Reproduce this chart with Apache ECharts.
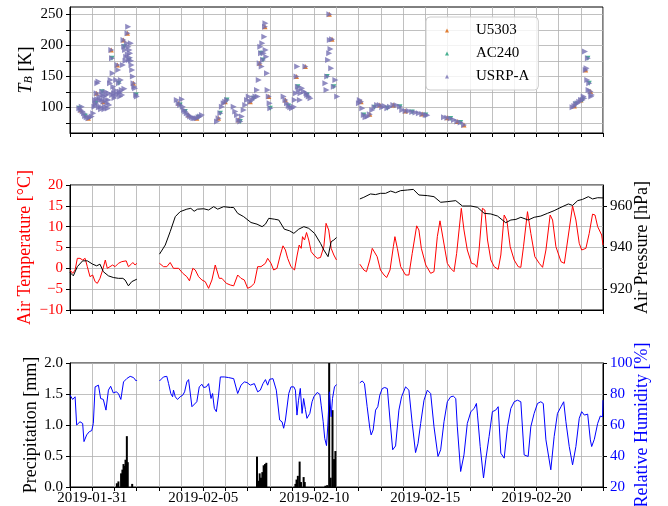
<!DOCTYPE html>
<html>
<head>
<meta charset="utf-8">
<script src="https://cdn.jsdelivr.net/npm/echarts@6/dist/echarts.min.js"></script>
<style>
  html, body { margin: 0; padding: 0; background: #fff; }
  #chart { width: 668px; height: 506px; }
</style>
</head>
<body>
<div id="chart"></div>
<script>
// x values are days since 2019-01-30 00:00
const dayTicks = [1, 6, 11, 16, 21];
const dayLabels = ['2019-01-31', '2019-02-05', '2019-02-10', '2019-02-15', '2019-02-20'];
const tbTicks = [75, 100, 125, 150, 175, 200, 225, 250];
const tbLabels = [100, 150, 200, 250];
const pressureTicks = [920, 940, 960];

const tbUSRP = [
  [0.42, 98.4], [0.48, 95.7], [0.53, 101], [0.57, 93], [0.63, 90.3], [0.68, 86], [0.75, 83.9], [0.83, 82.3],
  [0.9, 83.9], [0.98, 85], [1.05, 90.3], [1.1, 101], [1.13, 111.8], [1.15, 104], [1.17, 106.5], [1.2, 122.6],
  [1.22, 113], [1.23, 138.7], [1.28, 141.4], [1.3, 100], [1.32, 117.2], [1.35, 111.8], [1.38, 101], [1.4, 97],
  [1.43, 111.8], [1.45, 125], [1.47, 119.9], [1.5, 109.1], [1.53, 117.2], [1.55, 97], [1.58, 101], [1.6, 125],
  [1.62, 111.8], [1.65, 119.9], [1.68, 106.5], [1.7, 98], [1.73, 111.8], [1.74, 122.6], [1.77, 103.8],
  [1.8, 138.7], [1.83, 144.1], [1.86, 192.5], [1.89, 179], [1.9, 120], [1.92, 154.8], [1.95, 133.3],
  [1.98, 122.6], [2.0, 115], [2.03, 128], [2.05, 118], [2.08, 144.1], [2.11, 122.6], [2.14, 168.3],
  [2.17, 160.2], [2.2, 138.7], [2.23, 122.6], [2.25, 125], [2.26, 117.2], [2.29, 144.1], [2.33, 128],
  [2.35, 120], [2.38, 168.3], [2.41, 208.6], [2.44, 197.8], [2.45, 130], [2.48, 192.5], [2.5, 175],
  [2.53, 181.7], [2.56, 203.2], [2.59, 219.4], [2.6, 185], [2.62, 230.1], [2.63, 197.8], [2.65, 176.3],
  [2.68, 192.5], [2.7, 180], [2.71, 187.1], [2.74, 203.2], [2.75, 175], [2.77, 168.3], [2.8, 160.2],
  [2.83, 149.5], [2.86, 138.7], [2.89, 133.3], [2.93, 130.6], [2.98, 119.9], [3.01, 117.2],
  [4.81, 111.8], [4.89, 106.5], [4.96, 103.8], [5.04, 112.9], [5.08, 101], [5.14, 95.7], [5.19, 93],
  [5.26, 90.3], [5.34, 87.6], [5.41, 85], [5.49, 83.9], [5.56, 82.3], [5.64, 82.3], [5.71, 82.3],
  [5.79, 83.9], [5.86, 85], [5.94, 87.6],
  [6.62, 76.9], [6.69, 82.3], [6.77, 90.3], [6.84, 101], [6.92, 106.5], [6.99, 109.1], [7.07, 111.8],
  [7.37, 101], [7.44, 93], [7.52, 87.6], [7.59, 79.6], [7.67, 76.9], [7.74, 85], [7.82, 95.7], [7.89, 103.8],
  [7.97, 111.8], [8.05, 117.2], [8.12, 109.1], [8.2, 111.8], [8.27, 114.5], [8.35, 117.2], [8.42, 128],
  [8.45, 117.2], [8.5, 144.1], [8.54, 171], [8.57, 197.8], [8.6, 187.1], [8.63, 165.6], [8.66, 203.2],
  [8.69, 176.3], [8.72, 187.1], [8.75, 214], [8.78, 230.1], [8.8, 235.5], [8.81, 192.5], [8.84, 181.7],
  [8.87, 154.8], [8.9, 128], [8.95, 117.2], [8.99, 106.5], [9.02, 98.4],
  [9.62, 117.2], [9.7, 111.8], [9.77, 106.5], [9.85, 102.2], [9.92, 100], [10.0, 98.4], [10.08, 101],
  [10.12, 111.8], [10.17, 122.6], [10.2, 149.5], [10.23, 165.6], [10.26, 133.3], [10.3, 128], [10.35, 111.8],
  [10.38, 122.6], [10.45, 130.6], [10.53, 125.3], [10.6, 165.6], [10.65, 122.6], [10.68, 119.9],
  [10.75, 117.2], [10.83, 114.5],
  [11.5, 138.7], [11.55, 128], [11.58, 149.5], [11.62, 176.3], [11.67, 187.1], [11.68, 250], [11.7, 208.6],
  [11.73, 194], [11.76, 162.9], [11.8, 209.7], [11.88, 133.3], [11.95, 144.1], [12.03, 117.2],
  [13.01, 106.5], [13.05, 111.8], [13.11, 109.1], [13.16, 98.4], [13.23, 87.6], [13.31, 83.9], [13.41, 85],
  [13.5, 88.7], [13.61, 95.7], [13.71, 100], [13.83, 103.8], [13.95, 103.8], [14.06, 100], [14.17, 102.2],
  [14.29, 98.4], [14.41, 101], [14.56, 103.8], [14.71, 103.2], [14.86, 101], [14.96, 95.7], [15.11, 94.1],
  [15.26, 94.1], [15.41, 92.5], [15.56, 91.4], [15.71, 90.3], [15.86, 89.2], [16.02, 87.6], [16.09, 87.1],
  [16.84, 83.9], [16.99, 83.3], [17.14, 81.7], [17.29, 79.6], [17.44, 76.9], [17.59, 75.3], [17.74, 71.5],
  [22.63, 100], [22.71, 102.2], [22.78, 105.4], [22.86, 106.5], [22.93, 109.1], [23.01, 111.8],
  [23.08, 111.8], [23.13, 117.2], [23.16, 114.5], [23.19, 189.8], [23.22, 160.2], [23.26, 162.9],
  [23.29, 144.1], [23.32, 179], [23.35, 128], [23.38, 138.7], [23.44, 125.3], [23.47, 117.2], [23.5, 119.9]
];

// the other two receivers lie almost exactly under USRP-A
const tbU5303 = [
  [0.48, 95.7], [0.83, 82.3], [1.2, 122.6], [1.5, 109.1], [1.86, 192.5], [2.14, 168.3], [2.41, 208.6],
  [2.59, 219.4], [2.86, 138.7], [4.89, 106.5], [5.34, 87.6], [5.71, 82.3], [6.69, 82.3], [6.99, 109.1],
  [7.59, 79.6], [8.12, 109.1], [8.54, 171], [8.78, 230.1], [8.95, 117.2], [9.7, 111.8], [10.2, 149.5],
  [10.6, 165.6], [11.68, 250], [11.8, 209.7], [13.11, 109.1], [13.5, 88.7], [13.95, 103.8], [14.56, 103.8],
  [15.11, 94.1], [15.86, 89.2], [16.99, 83.3], [17.44, 76.9], [17.74, 71.5], [22.71, 102.2], [23.01, 111.8],
  [23.22, 160.2], [23.44, 125.3]
];

const tbAC240 = [
  [0.42, 98.4], [0.68, 86], [1.17, 106.5], [1.45, 125], [1.89, 179], [2.2, 138.7], [2.44, 197.8],
  [2.65, 176.3], [2.98, 119.9], [4.96, 103.8], [5.19, 93], [5.79, 83.9], [6.77, 90.3], [7.07, 111.8],
  [7.67, 76.9], [8.27, 114.5], [8.6, 187.1], [8.69, 176.3], [9.02, 98.4], [9.85, 102.2], [10.26, 133.3],
  [10.68, 119.9], [11.58, 149.5], [11.88, 133.3], [13.23, 87.6], [13.71, 100], [14.29, 98.4], [14.86, 101],
  [15.41, 92.5], [16.02, 87.6], [17.14, 81.7], [17.59, 75.3], [22.78, 105.4], [23.08, 111.8], [23.32, 179],
  [23.38, 138.7]
];

const airTemp = [
  [0.0, -0.4], [0.12, -1.2], [0.23, -0.4], [0.33, 2.4], [0.45, 2.4], [0.57, 2.0], [0.68, 2.4], [0.78, 0.4],
  [0.9, -2.0], [1.02, -1.6], [1.13, -3.2], [1.23, -3.6], [1.35, -2.4], [1.47, -0.4], [1.59, 2.0], [1.68, 0.0],
  [1.8, 0.4], [1.92, 0.8], [2.03, 0.4], [2.18, 1.2], [2.33, 1.6], [2.53, 1.8], [2.63, 0.4], [2.74, 0.9],
  [2.83, 1.4], [2.93, 0.8], [3.01, 1.2],
  [3.5, null],
  [4.03, 1.2], [4.21, 0.4], [4.36, 0.4], [4.51, 1.4], [4.66, 0.0], [4.89, 0.0], [5.08, -1.2], [5.26, -2.0],
  [5.38, -3.0], [5.53, 0.0], [5.64, -0.4], [5.79, -2.0], [5.94, -2.8], [6.09, -3.2], [6.24, -4.8],
  [6.39, -2.8], [6.54, 0.8], [6.62, 1.0], [6.72, -2.4], [6.84, -2.4], [7.04, -3.6], [7.22, -4.0],
  [7.37, -4.2], [7.55, -1.6], [7.7, -2.4], [7.85, -2.8], [8.0, -4.8], [8.15, -4.4], [8.3, -3.6],
  [8.45, 0.4], [8.6, 0.4], [8.8, 1.2], [8.9, 2.4], [9.05, 1.2], [9.17, -0.4], [9.32, 0.0], [9.47, 3.2],
  [9.59, 5.4], [9.7, 4.4], [9.8, 2.4], [9.95, 0.4], [10.11, -0.4], [10.23, 3.2], [10.32, 5.6],
  [10.41, 4.8], [10.47, 7.6], [10.56, 6.8], [10.65, 8.6], [10.75, 6.8], [10.86, 4.0], [10.98, 3.2],
  [11.13, 2.4], [11.28, 2.6], [11.43, 5.2], [11.53, 10.8], [11.65, 9.2], [11.76, 4.8], [11.88, 3.2],
  [12.0, 2.0],
  [12.5, null],
  [13.05, 1.0], [13.23, -0.4], [13.35, -0.8], [13.5, 2.0], [13.61, 4.8], [13.68, 5.0], [13.83, 2.8],
  [13.98, -0.4], [14.14, -1.6], [14.26, -2.2], [14.41, -0.4], [14.56, 5.2], [14.63, 7.6], [14.74, 4.8],
  [14.89, 0.4], [15.11, -1.6], [15.26, -1.6], [15.41, 3.6], [15.61, 10.2], [15.71, 9.2], [15.82, 4.8],
  [16.02, 0.8], [16.24, -1.2], [16.39, -0.8], [16.54, 7.6], [16.66, 11.4], [16.81, 6.8], [16.99, 1.2],
  [17.14, 0.0], [17.29, -0.8], [17.41, 3.6], [17.62, 14.4], [17.74, 9.2], [17.89, 4.4], [18.08, 1.2],
  [18.23, 0.96], [18.32, 0.24], [18.42, 4.4], [18.57, 14.4], [18.68, 14.0], [18.8, 6.8], [18.95, 2.0],
  [19.1, 0.4], [19.28, -0.24], [19.4, 3.2], [19.55, 12.8], [19.67, 11.6], [19.82, 5.2], [20.0, 2.0],
  [20.18, 0.4], [20.3, 0.24], [20.42, 5.2], [20.6, 13.6], [20.75, 8.4], [20.93, 2.8], [21.13, 1.2],
  [21.28, 0.24], [21.43, 4.4], [21.62, 12.8], [21.73, 11.6], [21.88, 5.2], [22.11, 1.6], [22.26, 1.2],
  [22.41, 6.8], [22.63, 15.0], [22.78, 11.6], [22.93, 6.0], [23.04, 4.4], [23.23, 4.8], [23.38, 8.4],
  [23.53, 13.0], [23.64, 12.8], [23.76, 10.0], [23.94, 8.0], [24.0, 5.6]
];

const airPressure = [
  [0.0, 928], [0.15, 926.4], [0.33, 930.8], [0.57, 933.6], [0.78, 933.6], [1.02, 932], [1.2, 931.2],
  [1.35, 932], [1.5, 928.4], [1.73, 926.4], [1.95, 925.6], [2.18, 925.2], [2.38, 925.2], [2.48, 924.4],
  [2.63, 921.6], [2.78, 923.6], [3.01, 924.8],
  [3.5, null],
  [4.03, 936.8], [4.29, 941.2], [4.51, 947.6], [4.74, 954.8], [4.96, 957.2], [5.26, 958.4], [5.44, 958.8],
  [5.59, 957.4], [5.74, 958.4], [6.02, 958.6], [6.24, 958], [6.47, 959.6], [6.65, 958.4], [6.92, 959.6],
  [7.22, 959.2], [7.37, 959.2], [7.55, 956.4], [7.82, 954.8], [8.15, 952], [8.42, 951.2], [8.65, 950],
  [8.8, 951.2], [8.95, 954], [9.2, 953.6], [9.4, 953.2], [9.65, 948.8], [9.89, 948], [10.08, 946.8],
  [10.3, 948.8], [10.53, 950], [10.75, 949.2], [11.01, 946.8], [11.28, 942], [11.43, 938.8],
  [11.62, 935.6], [11.76, 942.8], [11.88, 943.6], [12.0, 944.8],
  [12.5, null],
  [13.05, 963.3], [13.23, 964.1], [13.53, 965.7], [13.76, 965.4], [13.98, 966], [14.21, 966],
  [14.44, 967.1], [14.66, 966.3], [14.89, 967.3], [15.19, 967.6], [15.46, 967.9], [15.71, 965.2],
  [16.09, 964.9], [16.39, 964.4], [16.69, 961.7], [16.99, 962], [17.37, 962.5], [17.67, 959.9],
  [18.05, 959.9], [18.35, 959.3], [18.65, 956.4], [18.95, 956.1], [19.25, 955.1], [19.62, 951.9],
  [19.85, 953.2], [20.08, 953.5], [20.3, 954.5], [20.63, 953.2], [20.9, 954.5], [21.2, 955.1],
  [21.5, 956.4], [21.8, 957.7], [22.11, 959.3], [22.44, 960.9], [22.63, 960.2], [22.86, 962.5],
  [23.08, 963.1], [23.34, 964.4], [23.53, 963.3], [23.76, 963.9], [24.0, 963.8]
];

const humidity = [
  [0.0, 79.3], [0.12, 76.5], [0.23, 78.2], [0.3, 60], [0.45, 62.1], [0.57, 61], [0.63, 49.3], [0.75, 53.6],
  [0.87, 55.7], [0.98, 56.4], [1.05, 61], [1.13, 84.6], [1.28, 85.7], [1.38, 77.1], [1.5, 76.5],
  [1.62, 69.6], [1.73, 82.5], [1.83, 85], [1.95, 80.7], [2.08, 81.4], [2.18, 80.3], [2.29, 76.5],
  [2.41, 87.8], [2.56, 90], [2.71, 91.4], [2.86, 90.6], [2.98, 88.4], [3.01, 88.9],
  [3.5, null],
  [4.03, 88.4], [4.21, 91], [4.36, 91.4], [4.44, 86.7], [4.54, 80.3], [4.62, 78.2], [4.66, 82.5],
  [4.74, 78.2], [4.84, 76.5], [4.96, 78.2], [5.08, 79.3], [5.16, 81.4], [5.26, 87.8], [5.34, 89.3],
  [5.41, 88.9], [5.49, 71.8], [5.56, 72.8], [5.71, 75], [5.82, 84.6], [5.94, 86.3], [6.02, 84.2],
  [6.14, 84.6], [6.24, 86.7], [6.35, 77.1], [6.42, 80.3], [6.5, 70.7], [6.59, 68.6], [6.69, 79.3],
  [6.77, 91], [6.95, 91], [7.14, 90.6], [7.37, 89.9], [7.55, 80.3], [7.7, 85.7], [7.85, 87.8],
  [7.97, 87.4], [8.12, 85.7], [8.3, 86.7], [8.45, 81.4], [8.57, 82.5], [8.69, 86.7], [8.8, 89.3],
  [8.9, 85.7], [8.99, 89.5], [9.14, 89.9], [9.29, 82.5], [9.44, 63.2], [9.55, 62], [9.62, 57.9],
  [9.7, 63.2], [9.85, 80.3], [9.95, 84.6], [10.08, 84.6], [10.15, 82.5], [10.22, 66.4], [10.29, 76],
  [10.37, 83.6], [10.45, 67.5], [10.52, 77.1], [10.6, 70], [10.67, 64.3], [10.8, 67.5], [10.9, 75],
  [10.98, 78.2], [11.13, 81], [11.25, 79.8], [11.31, 72.8], [11.4, 62.1], [11.47, 51.4], [11.55, 46.7],
  [11.61, 60], [11.68, 81.4], [11.76, 65.3], [11.82, 77.1], [11.91, 84.6], [12.0, 86.1],
  [12.5, null],
  [13.05, 87.2], [13.16, 88.4], [13.26, 86.7], [13.38, 71.8], [13.5, 57.9], [13.56, 53.6], [13.65, 56.8],
  [13.76, 69.6], [13.86, 71.8], [13.95, 79.3], [14.06, 83.5], [14.17, 84.2], [14.29, 83.5], [14.41, 63.2],
  [14.53, 44], [14.66, 46.5], [14.81, 69.6], [14.93, 78.2], [15.11, 84.6], [15.26, 82.5], [15.41, 61],
  [15.56, 42.2], [15.67, 48.2], [15.79, 61], [15.94, 76], [16.09, 82.5], [16.24, 80.3], [16.39, 58.9],
  [16.57, 39.7], [16.69, 44], [16.84, 62.1], [16.99, 75], [17.14, 78.2], [17.26, 78.6], [17.37, 77.1],
  [17.44, 58.9], [17.59, 30], [17.74, 40.7], [17.89, 61], [18.05, 68.6], [18.2, 70.7], [18.3, 73.9],
  [18.35, 66.4], [18.47, 46.1], [18.62, 25.8], [18.72, 37.5], [18.87, 52.5], [19.02, 68.6], [19.17, 69.6],
  [19.28, 71.8], [19.4, 41.8], [19.55, 38.6], [19.7, 58.9], [19.85, 70.7], [20.0, 75], [20.15, 76],
  [20.3, 75], [20.45, 40.7], [20.63, 39.7], [20.75, 58.9], [20.9, 67.5], [21.05, 73.9], [21.2, 75],
  [21.31, 73.9], [21.43, 50.4], [21.65, 31.1], [21.8, 52.5], [21.95, 67.5], [22.11, 71.8], [22.23, 75],
  [22.33, 62.1], [22.48, 46.1], [22.63, 34.3], [22.78, 46.1], [22.93, 64.3], [23.04, 68.6], [23.16, 66.4],
  [23.31, 67], [23.43, 50.4], [23.49, 46.1], [23.61, 50.8], [23.76, 61], [23.88, 65.8], [23.98, 65.3],
  [24.0, 76]
];

const precip = [
  [2.11, 0.06], [2.18, 0.09], [2.3, 0.22], [2.36, 0.28], [2.41, 0.37], [2.45, 0.34], [2.5, 0.44],
  [2.56, 0.82], [2.6, 0.4], [2.8, 0.05],
  [8.42, 0.49], [8.48, 0.1], [8.54, 0.22], [8.6, 0.15], [8.66, 0.24], [8.72, 0.35], [8.78, 0.37], [8.84, 0.39],
  [10.15, 0.05], [10.2, 0.12], [10.26, 0.18], [10.34, 0.41], [10.4, 0.08], [10.52, 0.16], [10.57, 0.08],
  [11.5, 0.02], [11.58, 0.03], [11.67, 2.0], [11.74, 0.15], [11.82, 1.24], [11.89, 0.45], [11.95, 0.58]
];

const font = 'Liberation Serif';
const gridLine = { show: true, lineStyle: { color: '#b0b0b0', width: 0.8 } };
const blackLine = { show: true, onZero: false, lineStyle: { color: '#000', width: 1 } };

function dayAxis(gridIndex, withLabels) {
  return {
    type: 'value',
    gridIndex: gridIndex,
    min: 0,
    max: 24,
    interval: 1,
    axisLine: blackLine,
    axisTick: { show: true, length: 4, lineStyle: { color: '#000' } },
    axisLabel: {
      show: withLabels,
      margin: 4,
      fontFamily: font,
      fontSize: 15,
      color: '#000',
      formatter: function (v) {
        const i = dayTicks.indexOf(Math.round(v * 1000) / 1000);
        return i < 0 ? '' : dayLabels[i];
      },
    },
    splitLine: gridLine,
  };
}

function nameStyle(color) {
  return { fontFamily: font, fontSize: 18, color: color };
}

function labelStyle(color, formatter) {
  return { fontFamily: font, fontSize: 15, color: color, margin: 7, formatter: formatter };
}

const chart = echarts.init(document.getElementById('chart'));
const option = {
  animation: false,
  backgroundColor: '#fff',
  grid: [
    { left: 70, top: 7, width: 533, height: 126, show: true, borderColor: '#000', borderWidth: 1, outerBoundsMode: 'none' },
    { left: 70, top: 185, width: 533, height: 125, show: true, borderColor: '#000', borderWidth: 1, outerBoundsMode: 'none' },
    { left: 70, top: 363, width: 533, height: 124, show: true, borderColor: '#000', borderWidth: 1, outerBoundsMode: 'none' },
  ],
  legend: {
    orient: 'vertical',
    left: 426,
    top: 17,
    padding: [6, 9, 6, 19],
    itemGap: 8,
    itemWidth: 4,
    itemHeight: 4,
    backgroundColor: 'rgba(255,255,255,0.8)',
    borderColor: '#cccccc',
    borderWidth: 1,
    borderRadius: 4,
    z: 10,
    textStyle: { fontFamily: font, fontSize: 15, color: '#000', lineHeight: 15, padding: [0, 0, 0, 22] },
    data: ['U5303', 'AC240', 'USRP-A'],
  },
  xAxis: [dayAxis(0, false), dayAxis(1, false), dayAxis(2, true)],
  yAxis: [
    {
      type: 'value', gridIndex: 0, min: 58.5, max: 261.8,
      name: '{i|T}{s|B} [K]', nameLocation: 'middle', nameGap: 35, nameRotate: 90, nameMoveOverlap: false,
      nameTextStyle: {
        fontFamily: font, fontSize: 18, color: '#000',
        rich: {
          i: { fontFamily: font, fontSize: 18, fontStyle: 'italic', color: '#000' },
          s: { fontFamily: font, fontSize: 12, fontStyle: 'italic', color: '#000', lineHeight: 6, verticalAlign: 'bottom' },
        },
      },
      axisLine: blackLine,
      axisTick: { show: true, length: 4, customValues: tbTicks, lineStyle: { color: '#000' } },
      axisLabel: Object.assign(labelStyle('#000'), { customValues: tbLabels }),
      splitLine: gridLine,
    },
    {
      type: 'value', gridIndex: 1, min: -10, max: 20, interval: 5,
      name: 'Air Temperature [°C]', nameLocation: 'middle', nameGap: 36, nameRotate: 90, nameMoveOverlap: false,
      nameTextStyle: nameStyle('#ff0000'),
      axisLine: blackLine,
      axisTick: { show: true, length: 4, lineStyle: { color: '#000' } },
      axisLabel: labelStyle('#ff0000', function (v) { return String(v).replace('-', '\u2212'); }),
      splitLine: gridLine,
    },
    {
      type: 'value', gridIndex: 1, min: 910, max: 970, position: 'right',
      name: 'Air Pressure [hPa]', nameLocation: 'middle', nameGap: 30, nameRotate: 90, nameMoveOverlap: false,
      nameTextStyle: nameStyle('#000'),
      axisLine: blackLine,
      axisTick: { show: true, length: 4, customValues: pressureTicks, lineStyle: { color: '#000' } },
      axisLabel: Object.assign(labelStyle('#000'), { customValues: pressureTicks }),
      splitLine: { show: false },
    },
    {
      type: 'value', gridIndex: 2, min: 0, max: 2, interval: 0.5,
      name: 'Precipitation [mm]', nameLocation: 'middle', nameGap: 30, nameRotate: 90, nameMoveOverlap: false,
      nameTextStyle: nameStyle('#000'),
      axisLine: blackLine,
      axisTick: { show: true, length: 4, lineStyle: { color: '#000' } },
      axisLabel: labelStyle('#000', function (v) { return v.toFixed(1); }),
      splitLine: gridLine,
    },
    {
      type: 'value', gridIndex: 2, min: 20, max: 100, interval: 20, position: 'right',
      name: 'Relative Humidity [%]', nameLocation: 'middle', nameGap: 30, nameRotate: 90, nameMoveOverlap: false,
      nameTextStyle: nameStyle('#0000ff'),
      axisLine: blackLine,
      axisTick: { show: true, length: 4, lineStyle: { color: '#000' } },
      axisLabel: labelStyle('#0000ff'),
      splitLine: { show: false },
    },
  ],
  series: [
    {
      name: 'U5303', type: 'scatter', xAxisIndex: 0, yAxisIndex: 0,
      symbol: 'triangle', symbolSize: 5, itemStyle: { color: '#d95f02' }, data: tbU5303,
    },
    {
      name: 'AC240', type: 'scatter', xAxisIndex: 0, yAxisIndex: 0,
      symbol: 'triangle', symbolRotate: 180, symbolSize: 5, itemStyle: { color: '#1b9e77' }, data: tbAC240,
    },
    {
      name: 'USRP-A', type: 'scatter', xAxisIndex: 0, yAxisIndex: 0,
      symbol: 'triangle', symbolRotate: -90, symbolSize: 6, itemStyle: { color: '#7570b3' }, data: tbUSRP,
    },
    {
      name: 'Air Temperature', type: 'line', xAxisIndex: 1, yAxisIndex: 1,
      showSymbol: false, lineStyle: { color: '#ff0000', width: 1 }, itemStyle: { color: '#ff0000' }, data: airTemp,
    },
    {
      name: 'Air Pressure', type: 'line', xAxisIndex: 1, yAxisIndex: 2,
      showSymbol: false, lineStyle: { color: '#000', width: 1 }, itemStyle: { color: '#000' }, data: airPressure,
    },
    {
      name: 'Precipitation', type: 'bar', xAxisIndex: 2, yAxisIndex: 3,
      barWidth: 2, itemStyle: { color: '#000' }, data: precip,
    },
    {
      name: 'Relative Humidity', type: 'line', xAxisIndex: 2, yAxisIndex: 4,
      showSymbol: false, lineStyle: { color: '#0000ff', width: 1 }, itemStyle: { color: '#0000ff' }, data: humidity,
    },
  ],
};
chart.setOption(option);
window.addEventListener('resize', () => {
  chart.resize();
});
</script>
</body>
</html>
